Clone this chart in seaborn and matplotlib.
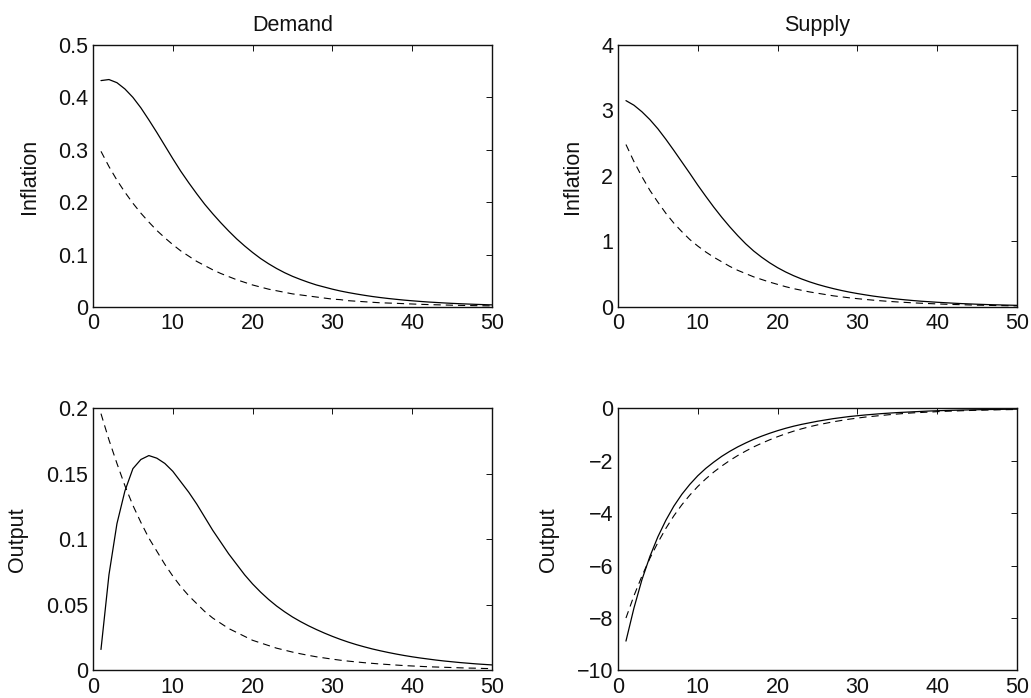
import matplotlib
matplotlib.use("Agg")
import matplotlib.pyplot as plt
import numpy as np
import seaborn as sns

sns.set_theme(style="white")
plt.rcParams['font.family'] = ['Liberation Sans', 'DejaVu Sans']

# horizon 1..50
periods = list(range(1, 51))

# demand shock, inflation (solid / dashed)
dem_infl_solid = [0.432, 0.434, 0.428, 0.416, 0.400, 0.380, 0.357, 0.333, 0.308, 0.283,
                  0.259, 0.237, 0.216, 0.196, 0.178, 0.161, 0.145, 0.130, 0.1165, 0.104,
                  0.0925, 0.0825, 0.0735, 0.0655, 0.0585, 0.0525, 0.047, 0.042, 0.038, 0.034,
                  0.0305, 0.0275, 0.0248, 0.0223, 0.020, 0.018, 0.0162, 0.0146, 0.0131, 0.0118,
                  0.0106, 0.0095, 0.0086, 0.0077, 0.0069, 0.0062, 0.0056, 0.005, 0.0045, 0.004]
dem_infl_dash = [0.297, 0.268, 0.242, 0.219, 0.198, 0.179, 0.162, 0.146, 0.132, 0.119,
                 0.107, 0.097, 0.087, 0.079, 0.071, 0.064, 0.058, 0.052, 0.047, 0.042,
                 0.038, 0.034, 0.031, 0.028, 0.025, 0.023, 0.021, 0.019, 0.017, 0.015,
                 0.014, 0.012, 0.011, 0.010, 0.009, 0.008, 0.0075, 0.007, 0.0063, 0.0057,
                 0.0051, 0.0046, 0.0042, 0.0038, 0.0034, 0.0031, 0.0028, 0.0025, 0.0023, 0.0021]

# demand shock, output
dem_out_solid = [0.016, 0.073, 0.112, 0.137, 0.154, 0.161, 0.164, 0.162, 0.158, 0.152,
                 0.144, 0.136, 0.127, 0.117, 0.107, 0.098, 0.089, 0.081, 0.073, 0.066,
                 0.0598, 0.0542, 0.0492, 0.0448, 0.0408, 0.0373, 0.0341, 0.0312, 0.0285, 0.026,
                 0.0237, 0.0216, 0.0197, 0.018, 0.0164, 0.015, 0.0137, 0.0125, 0.0114, 0.0104,
                 0.0095, 0.0087, 0.0079, 0.0072, 0.0066, 0.006, 0.0055, 0.005, 0.0046, 0.0042]
dem_out_dash = [0.196, 0.176, 0.158, 0.141, 0.126, 0.113, 0.101, 0.091, 0.081, 0.072,
                0.064, 0.057, 0.051, 0.045, 0.040, 0.036, 0.032, 0.029, 0.026, 0.023,
                0.021, 0.019, 0.017, 0.0155, 0.014, 0.0127, 0.0115, 0.0104, 0.0095, 0.0086,
                0.0078, 0.0071, 0.0065, 0.0059, 0.0054, 0.0049, 0.0045, 0.0041, 0.0037, 0.0034,
                0.0031, 0.0028, 0.0026, 0.0024, 0.0022, 0.002, 0.0018, 0.0017, 0.0015, 0.0014]

# supply shock, inflation
sup_infl_solid = [3.15, 3.08, 2.98, 2.86, 2.72, 2.56, 2.39, 2.215, 2.04, 1.86,
                  1.69, 1.525, 1.37, 1.225, 1.09, 0.965, 0.855, 0.76, 0.675, 0.60,
                  0.535, 0.478, 0.428, 0.384, 0.345, 0.311, 0.28, 0.252, 0.227, 0.205,
                  0.185, 0.166, 0.15, 0.135, 0.121, 0.109, 0.098, 0.088, 0.08, 0.072,
                  0.065, 0.058, 0.052, 0.047, 0.042, 0.038, 0.034, 0.031, 0.028, 0.025]
sup_infl_dash = [2.48, 2.22, 1.99, 1.78, 1.60, 1.43, 1.28, 1.15, 1.03, 0.93,
                 0.84, 0.76, 0.69, 0.62, 0.56, 0.51, 0.46, 0.42, 0.38, 0.345,
                 0.31, 0.28, 0.255, 0.23, 0.21, 0.19, 0.17, 0.155, 0.14, 0.127,
                 0.115, 0.104, 0.094, 0.085, 0.077, 0.070, 0.063, 0.057, 0.052, 0.047,
                 0.042, 0.038, 0.035, 0.031, 0.028, 0.026, 0.023, 0.021, 0.019, 0.017]

# supply shock, output
sup_out_solid = [-8.88, -7.62, -6.54, -5.65, -4.90, -4.27, -3.73, -3.28, -2.90, -2.57,
                 -2.29, -2.05, -1.83, -1.64, -1.47, -1.32, -1.18, -1.06, -0.95, -0.85,
                 -0.76, -0.68, -0.61, -0.55, -0.49, -0.44, -0.39, -0.35, -0.31, -0.28,
                 -0.25, -0.225, -0.20, -0.18, -0.16, -0.145, -0.13, -0.115, -0.10, -0.09,
                 -0.08, -0.072, -0.064, -0.057, -0.051, -0.045, -0.040, -0.036, -0.032, -0.028]
sup_out_dash = [-8.00, -7.15, -6.40, -5.72, -5.12, -4.58, -4.10, -3.68, -3.31, -2.98,
                -2.69, -2.43, -2.20, -1.99, -1.80, -1.63, -1.47, -1.33, -1.20, -1.08,
                -0.97, -0.87, -0.78, -0.70, -0.63, -0.57, -0.51, -0.46, -0.41, -0.37,
                -0.33, -0.30, -0.27, -0.24, -0.215, -0.19, -0.17, -0.155, -0.14, -0.125,
                -0.11, -0.10, -0.09, -0.08, -0.072, -0.064, -0.057, -0.051, -0.046, -0.041]

col_titles = ["Demand", "Supply"]
row_labels = ["Inflation", "Output"]

fig = plt.figure(figsize=(10.31, 6.98), dpi=100)
lefts = [0.0902, 0.5994]
bottoms = [0.5602, 0.0395]
w, h = 0.387, 0.3754
fs = 15.5

panels = [
    (0, 0, dem_infl_solid, dem_infl_dash, (0, 0.5), np.arange(0, 0.51, 0.1), ["0", "0.1", "0.2", "0.3", "0.4", "0.5"]),
    (0, 1, sup_infl_solid, sup_infl_dash, (0, 4), np.arange(0, 5, 1), ["0", "1", "2", "3", "4"]),
    (1, 0, dem_out_solid, dem_out_dash, (0, 0.2), np.arange(0, 0.21, 0.05), ["0", "0.05", "0.1", "0.15", "0.2"]),
    (1, 1, sup_out_solid, sup_out_dash, (-10, 0), np.arange(-10, 1, 2), ["\u221210", "\u22128", "\u22126", "\u22124", "\u22122", "0"]),
]

for r, c, solid, dash, ylim, yt, ytl in panels:
    ax = fig.add_axes([lefts[c], bottoms[r], w, h])
    sns.lineplot(x=periods, y=solid, ax=ax, color="black", lw=0.9, errorbar=None)
    sns.lineplot(x=periods, y=dash, ax=ax, color="black", lw=0.8,
                 linestyle=(0, (6.5, 4.5)), errorbar=None)
    ax.set_xlim(0, 50)
    ax.set_ylim(*ylim)
    ax.set_xticks(range(0, 51, 10))
    ax.set_yticks(yt)
    ax.set_yticklabels(ytl)
    ax.tick_params(direction="in", length=4, width=0.7, top=True, right=True,
                   labelsize=fs, colors="#111111")
    ax.tick_params(axis="x", pad=4.5)
    ax.tick_params(axis="y", pad=3.5)
    for s in ax.spines.values():
        s.set_visible(True)
        s.set_color("#111111")
        s.set_linewidth(1.0)
    ax.set_ylabel(row_labels[r], fontsize=fs, labelpad=13, color="#111111")
    if r == 0:
        ax.set_title(col_titles[c], fontsize=fs, pad=10, color="#111111")

fig.savefig("out.png", dpi=100)
